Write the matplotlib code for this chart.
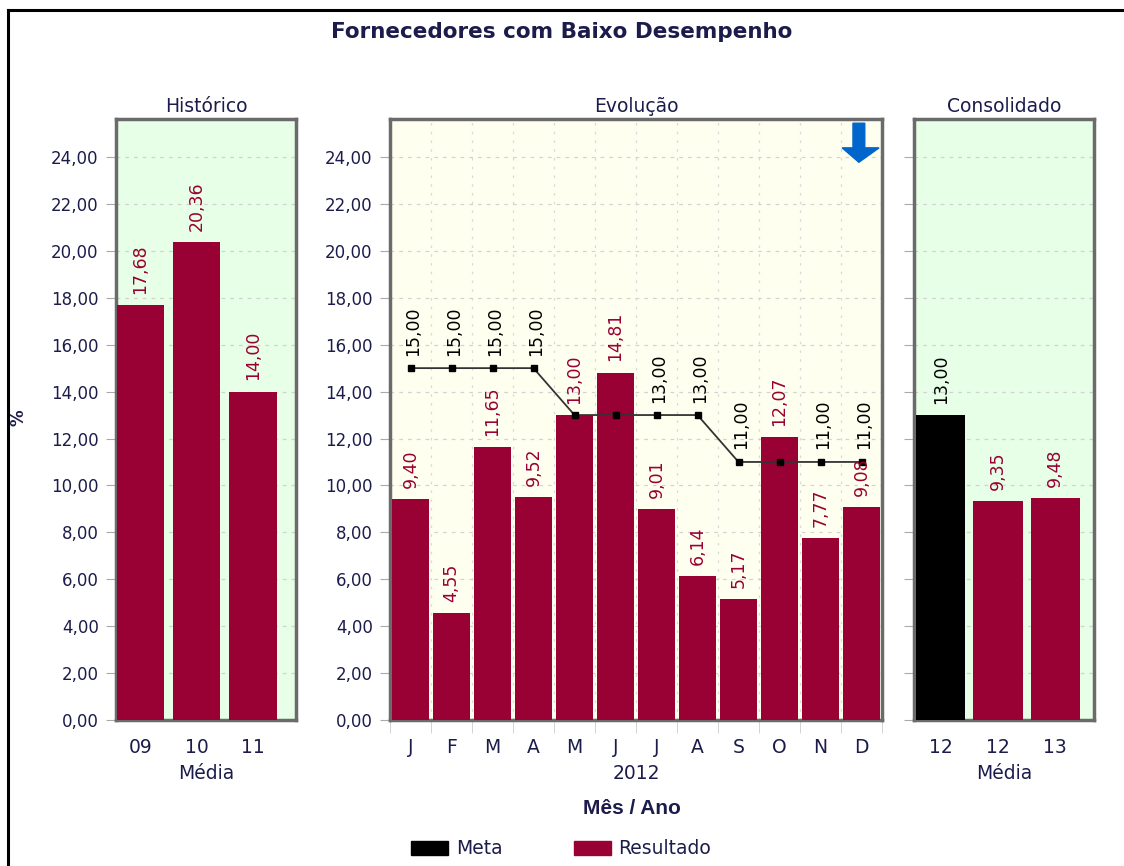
import numpy as np
import matplotlib.pyplot as plt
from matplotlib.patches import Polygon, Patch
from matplotlib.lines import Line2D

plt.rcParams['font.family'] = ['DejaVu Sans']

# data
hist_labels = ["09", "10", "11"]
hist_vals = [17.68, 20.36, 14.00]

months = ["J", "F", "M", "A", "M", "J", "J", "A", "S", "O", "N", "D"]
resultado = [9.40, 4.55, 11.65, 9.52, 13.00, 14.81, 9.01, 6.14, 5.17, 12.07, 7.77, 9.08]
meta = [15, 15, 15, 15, 13, 13, 13, 13, 11, 11, 11, 11]

cons_labels = ["12", "12", "13"]
cons_vals = [13.00, 9.35, 9.48]
cons_colors = ["black", "#990033", "#990033"]

red = "#990033"
navy = "#1c1c4c"
green_bg = "#e6ffe6"
yellow_bg = "#fffff0"
W, H = 1124, 866

fig = plt.figure(figsize=(W / 100, H / 100), dpi=100)

def fx(px):
    return px / W

def fy(py):
    return 1 - py / H

def fmt(v):
    return f"{v:.2f}".replace(".", ",")

# outer frame
fig.add_artist(Line2D([fx(8), fx(8)], [fy(10), -0.01], color="black", lw=2.2))
fig.add_artist(Line2D([fx(8), 1.01], [fy(10), fy(10)], color="black", lw=2.2))

bottom = fy(720)
height = fy(119) - fy(720)
ax1 = fig.add_axes([fx(116), bottom, fx(180), height])
ax2 = fig.add_axes([fx(390), bottom, fx(492), height])
ax3 = fig.add_axes([fx(914), bottom, fx(180), height])

ymax = (720 - 119) / ((720 - 157) / 24)
yt = np.arange(0, 25, 2)
lab = 12.5   # value labels
big = 13.5   # panel titles / category labels

for ax, bg in [(ax1, green_bg), (ax2, yellow_bg), (ax3, green_bg)]:
    ax.set_facecolor(bg)
    ax.set_ylim(0, ymax)
    ax.set_yticks(yt)
    ax.set_yticklabels([fmt(v) for v in yt])
    ax.yaxis.grid(True, color="#d2d2d2", linestyle=(0, (3, 4)), lw=0.9)
    ax.set_axisbelow(True)
    for s in ax.spines.values():
        s.set_color("#6b6b6b")
        s.set_linewidth(2.5)
    ax.tick_params(axis="y", length=7.5, color="#aaaaaa", labelsize=12,
                   labelcolor=navy, pad=5)
    ax.tick_params(axis="x", length=0, labelsize=big, labelcolor=navy, pad=13)

# historico
xh = np.arange(len(hist_vals))
ax1.bar(xh, hist_vals, width=0.84, color=red, zorder=3)
ax1.set_xlim(-0.43, 2.76)
ax1.set_xticks(xh)
ax1.set_xticklabels(hist_labels)
for x, v in zip(xh, hist_vals):
    ax1.annotate(fmt(v), (x, v), xytext=(0, 8), textcoords="offset points",
                 rotation=90, ha="center", va="bottom", color=red, fontsize=lab)
ax1.set_title("Histórico", fontsize=big, color=navy, pad=5)
ax1.set_xlabel("Média", fontsize=big, color=navy, labelpad=5)

# evolucao
xm = np.arange(len(months))
ax2.bar(xm, resultado, width=0.88, color=red, zorder=3)
ax2.plot(xm, meta, color="#333333", lw=1.3, marker="s", markersize=5,
         markerfacecolor="black", markeredgecolor="black", zorder=4)
ax2.set_xlim(-0.5, len(months) - 0.5)
ax2.set_xticks(xm)
ax2.set_xticklabels(months)
ax2.set_xticks(np.arange(-0.5, len(months)), minor=True)
ax2.tick_params(axis="x", which="minor", length=9, color="#cccccc")
ax2.xaxis.grid(True, which="minor", color="#d8d8d8", linestyle=(0, (2, 5)), lw=0.9)
for x, v in zip(xm, resultado):
    ax2.annotate(fmt(v), (x, v), xytext=(0, 8), textcoords="offset points",
                 rotation=90, ha="center", va="bottom", color=red,
                 fontsize=lab, zorder=5)
for x, v, r in zip(xm, meta, resultado):
    # the chart hides the goal label where the bar label would cover it
    if r < v:
        ax2.annotate(fmt(v), (x, v), xytext=(2, 9), textcoords="offset points",
                     rotation=90, ha="center", va="bottom", color="black",
                     fontsize=lab, zorder=5)
ax2.set_title("Evolução", fontsize=big, color=navy, pad=5)
ax2.set_xlabel("2012", fontsize=big, color=navy, labelpad=5)

# arrow (indicator)
arrow = Polygon([[0.941, 0.993], [0.965, 0.993], [0.965, 0.952], [0.994, 0.952],
                 [0.953, 0.928], [0.919, 0.952], [0.941, 0.952]],
                closed=True, transform=ax2.transAxes, color="#0066cc", zorder=6)
ax2.add_patch(arrow)

# consolidado
xc = np.arange(len(cons_vals))
ax3.bar(xc, cons_vals, width=0.86, color=cons_colors, zorder=3)
ax3.set_xlim(-0.47, 2.68)
ax3.set_xticks(xc)
ax3.set_xticklabels(cons_labels)
ax3.tick_params(axis="y", labelleft=False)
for x, v, c in zip(xc, cons_vals, cons_colors):
    ax3.annotate(fmt(v), (x, v), xytext=(0, 8), textcoords="offset points",
                 rotation=90, ha="center", va="bottom", color=c, fontsize=lab)
ax3.set_title("Consolidado", fontsize=big, color=navy, pad=5)
ax3.set_xlabel("Média", fontsize=big, color=navy, labelpad=5)

fig.text(fx(562), fy(32), "Fornecedores com Baixo Desempenho", ha="center",
         va="center", fontsize=15.5, fontweight="bold", color=navy)
fig.text(fx(632), fy(809), "Mês / Ano", ha="center", va="center",
         fontsize=15, fontweight="bold", color=navy, family="Liberation Sans")
fig.text(fx(18), fy(418), "%", ha="center", va="center", rotation=90,
         fontsize=12, fontweight="bold", color=navy)

handles = [Patch(color="black", label="Meta"), Patch(color=red, label="Resultado")]
fig.legend(handles=handles, loc="center", bbox_to_anchor=(fx(561), fy(849)),
           ncol=2, frameon=False, fontsize=13.5, handlelength=2.0,
           handleheight=0.7, handletextpad=0.4, columnspacing=3.8,
           labelcolor=navy)

fig.savefig("out.png", dpi=100)
